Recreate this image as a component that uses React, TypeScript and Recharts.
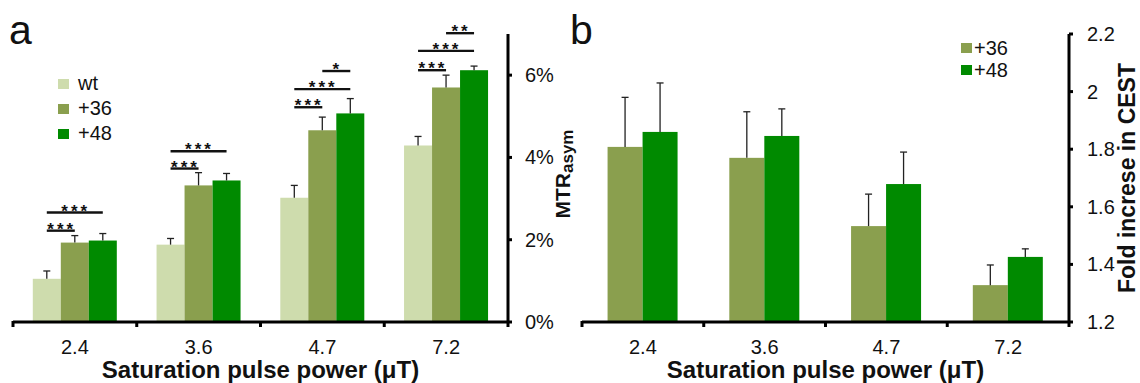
import React from "react";
import { BarChart, Bar, XAxis, YAxis, Legend } from "recharts";

const FONT = "'Liberation Sans', Arial, Helvetica, sans-serif";

// ---- shared ----
const categories = ["2.4", "3.6", "4.7", "7.2"];
const xTitle = "Saturation pulse power (\u03bcT)";

// ---- panel a ----
const seriesNamesA = ["wt", "+36", "+48"];
const seriesColorsA = ["#cedcad", "#8a9f4e", "#008a00"];
const wtA = [1.05, 1.88, 3.02, 4.29];
const wtErrA = [0.19, 0.15, 0.3, 0.22];
const p36A = [1.93, 3.32, 4.66, 5.7];
const p36ErrA = [0.17, 0.31, 0.32, 0.3];
const p48A = [1.98, 3.44, 5.07, 6.12];
const p48ErrA = [0.17, 0.17, 0.36, 0.1];
const yDomainA = [0, 7];
const yTicksA = [0, 2, 4, 6];
// significance brackets per category: [fromSeries, toSeries, level(%), label]
const sigA: [number, number, number, string][][] = [
  [[0, 1, 2.22, "***"], [0, 2, 2.66, "***"]],
  [[0, 1, 3.73, "***"], [0, 2, 4.15, "***"]],
  [[0, 1, 5.22, "***"], [0, 2, 5.66, "***"], [1, 2, 6.1, "*"]],
  [[0, 1, 6.12, "***"], [0, 2, 6.59, "***"], [1, 2, 7.02, "**"]],
];

// ---- panel b ----
const seriesNamesB = ["+36", "+48"];
const seriesColorsB = ["#8a9f4e", "#008a00"];
const p36B = [1.808, 1.77, 1.533, 1.328];
const p36ErrB = [0.172, 0.16, 0.111, 0.07];
const p48B = [1.86, 1.846, 1.679, 1.426];
const p48ErrB = [0.17, 0.094, 0.111, 0.028];
const yDomainB = [1.2, 2.2];
const yTicksB = [1.2, 1.4, 1.6, 1.8, 2, 2.2];

const dataA = categories.map((c, i) => ({
  cat: c,
  wt: wtA[i],
  wtErr: wtErrA[i],
  p36: p36A[i],
  p36Err: p36ErrA[i],
  p48: p48A[i],
  p48Err: p48ErrA[i],
  sig: sigA[i],
}));

const dataB = categories.map((c, i) => ({
  cat: c,
  p36: p36B[i],
  p36Err: p36ErrB[i],
  p48: p48B[i],
  p48Err: p48ErrB[i],
}));

function makeShape(
  color: string,
  key: string,
  errKey: string,
  base: number,
  seriesIndex: number,
  withSig: boolean
) {
  return (props: any) => {
    const { x, y, width, height, payload } = props;
    const v = payload[key];
    const ppu = height / (v - base);
    const cx = x + width / 2;
    const ey = y - payload[errKey] * ppu;
    const bottom = y + height;
    const centerOf = (k: number) => x - width * (seriesIndex - k) + width / 2;
    return (
      <g>
        <rect x={x} y={y} width={width} height={height} fill={color} />
        <line x1={cx} x2={cx} y1={y} y2={ey} stroke="#222" strokeWidth={1.3} />
        <line x1={cx - 3.5} x2={cx + 3.5} y1={ey} y2={ey} stroke="#222" strokeWidth={1.3} />
        {withSig &&
          (payload.sig as [number, number, number, string][]).map((s, j) => {
            const ly = bottom - (s[2] - base) * ppu;
            const x1 = centerOf(s[0]);
            const x2 = centerOf(s[1]);
            return (
              <g key={j}>
                <line x1={x1} x2={x2} y1={ly} y2={ly} stroke="#111" strokeWidth={2.4} />
                <text
                  x={(x1 + x2) / 2 + 1}
                  y={ly + 4}
                  textAnchor="middle"
                  fontFamily={FONT}
                  fontSize={17}
                  fontWeight="bold"
                  letterSpacing={3}
                  fill="#111"
                >
                  {s[3]}
                </text>
              </g>
            );
          })}
      </g>
    );
  };
}

const CatTick = (props: any) => {
  const { x, y, payload, index, width } = props;
  const half = width / categories.length / 2;
  return (
    <g>
      <line x1={x - half} x2={x - half} y1={y - 1} y2={y + 5} stroke="#000" strokeWidth={3} />
      {index === categories.length - 1 && (
        <line x1={x + half} x2={x + half} y1={y - 1} y2={y + 5} stroke="#000" strokeWidth={3} />
      )}
      <text x={x} y={y + 25} dy="0.35em" textAnchor="middle" fontFamily={FONT} fontSize={20} fill="#111">
        {payload.value}
      </text>
    </g>
  );
};

const makeValTick = (suffix: string) => (props: any) => {
  const { x, y, payload } = props;
  return (
    <text x={x} y={y} dy="0.35em" textAnchor="start" fontFamily={FONT} fontSize={20} fill="#111">
      {String(payload.value) + suffix}
    </text>
  );
};

const titleLabel = (props: any) => {
  const vb = props.viewBox;
  return (
    <text
      x={vb.x + vb.width / 2}
      y={vb.y + 56}
      textAnchor="middle"
      fontFamily={FONT}
      fontSize={24}
      fontWeight="bold"
      fill="#111"
    >
      {xTitle}
    </text>
  );
};

const mtrLabel = (props: any) => {
  const vb = props.viewBox;
  const cx = vb.x + 62;
  const cy = vb.y + vb.height / 2 - 4;
  return (
    <text
      x={cx}
      y={cy}
      transform={`rotate(-90, ${cx}, ${cy})`}
      textAnchor="middle"
      fontFamily={FONT}
      fontWeight="bold"
      fill="#111"
    >
      <tspan fontSize={21}>MTR</tspan>
      <tspan fontSize={17} dy={3}>asym</tspan>
    </text>
  );
};

const foldLabel = (props: any) => {
  const vb = props.viewBox;
  const cx = vb.x + 66;
  const cy = vb.y + vb.height / 2;
  return (
    <text
      x={cx}
      y={cy}
      transform={`rotate(-90, ${cx}, ${cy})`}
      textAnchor="middle"
      fontFamily={FONT}
      fontWeight="bold"
      fontSize={23}
      fill="#111"
    >
      Fold increse in CEST
    </text>
  );
};

const makeLegend = (names: string[], colors: string[], rowH: number, gap: number) => () => (
  <div style={{ fontFamily: FONT, fontSize: 20, color: "#111" }}>
    {names.map((n, i) => (
      <div key={n} style={{ display: "flex", alignItems: "center", height: rowH, lineHeight: rowH + "px" }}>
        <span style={{ display: "inline-block", width: 11, height: 10, background: colors[i], marginRight: gap }} />
        <span>{n}</span>
      </div>
    ))}
  </div>
);

const axisLineStyle = { stroke: "#000", strokeWidth: 3 };

export default function App() {
  return (
    <div
      style={{
        position: "fixed",
        left: 0,
        top: 0,
        width: 1140,
        height: 383,
        background: "#fff",
        overflow: "hidden",
      }}
    >
      <div style={{ position: "absolute", left: 9, top: 10, fontFamily: FONT, fontSize: 41, lineHeight: 1, color: "#111" }}>a</div>
      <div style={{ position: "absolute", left: 570, top: 10, fontFamily: FONT, fontSize: 41, lineHeight: 1, color: "#111" }}>b</div>
      <div style={{ position: "absolute", left: 0, top: 0 }}>
        <BarChart
          width={600}
          height={383}
          data={dataA}
          margin={{ top: 34, right: 30, bottom: 0, left: 13 }}
          barCategoryGap="16%"
          barGap={0}
        >
          <XAxis
            dataKey="cat"
            height={61}
            interval={0}
            tickLine={false}
            tickSize={0}
            tickMargin={0}
            axisLine={axisLineStyle}
            tick={<CatTick />}
            label={{ content: titleLabel }}
          />
          <YAxis
            orientation="right"
            width={62}
            domain={yDomainA}
            ticks={yTicksA}
            interval={0}
            tickSize={4}
            tickMargin={13}
            axisLine={axisLineStyle}
            tickLine={axisLineStyle}
            tick={makeValTick("%")}
            label={{ content: mtrLabel }}
          />
          <Bar dataKey="wt" fill={seriesColorsA[0]} isAnimationActive={false} shape={makeShape(seriesColorsA[0], "wt", "wtErr", 0, 0, false)} />
          <Bar dataKey="p36" fill={seriesColorsA[1]} isAnimationActive={false} shape={makeShape(seriesColorsA[1], "p36", "p36Err", 0, 1, false)} />
          <Bar dataKey="p48" fill={seriesColorsA[2]} isAnimationActive={false} shape={makeShape(seriesColorsA[2], "p48", "p48Err", 0, 2, true)} />
          <Legend
            layout="vertical"
            align="center"
            verticalAlign="middle"
            content={makeLegend(seriesNamesA, seriesColorsA, 25, 9)}
            wrapperStyle={{ left: 58, top: 71, width: 120 }}
          />
        </BarChart>
      </div>
      <div style={{ position: "absolute", left: 570, top: 0 }}>
        <BarChart
          width={570}
          height={383}
          data={dataB}
          margin={{ top: 34, right: 0, bottom: 0, left: 12 }}
          barCategoryGap="21%"
          barGap={0}
        >
          <XAxis
            dataKey="cat"
            height={61}
            interval={0}
            tickLine={false}
            tickSize={0}
            tickMargin={0}
            axisLine={axisLineStyle}
            tick={<CatTick />}
            label={{ content: titleLabel }}
          />
          <YAxis
            orientation="right"
            width={71}
            domain={yDomainB}
            ticks={yTicksB}
            interval={0}
            tickSize={4}
            tickMargin={14}
            axisLine={axisLineStyle}
            tickLine={axisLineStyle}
            tick={makeValTick("")}
            label={{ content: foldLabel }}
          />
          <Bar dataKey="p36" fill={seriesColorsB[0]} isAnimationActive={false} shape={makeShape(seriesColorsB[0], "p36", "p36Err", 1.2, 0, false)} />
          <Bar dataKey="p48" fill={seriesColorsB[1]} isAnimationActive={false} shape={makeShape(seriesColorsB[1], "p48", "p48Err", 1.2, 1, false)} />
          <Legend
            layout="vertical"
            align="center"
            verticalAlign="middle"
            content={makeLegend(seriesNamesB, seriesColorsB, 22, 2)}
            wrapperStyle={{ left: 391, top: 37, width: 100 }}
          />
        </BarChart>
      </div>
    </div>
  );
}
